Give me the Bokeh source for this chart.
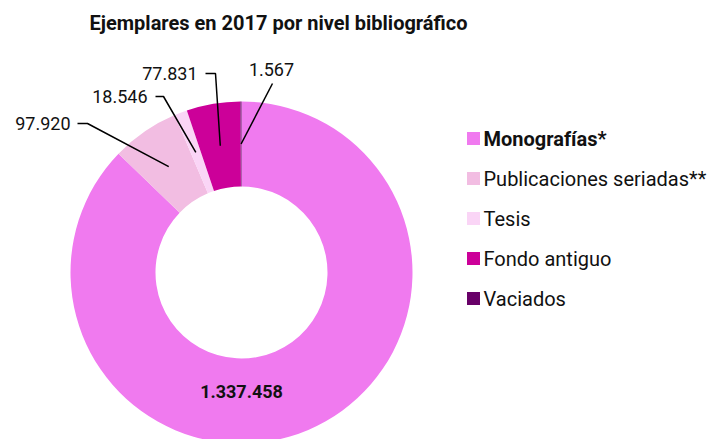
from math import pi, cos, sin
from bokeh.plotting import figure
from bokeh.models import Range1d, ColumnDataSource
from bokeh.core.properties import value
from bokeh.embed import file_html
from bokeh.resources import INLINE

# ---- data ----
categories = ["Monografías*", "Publicaciones seriadas**", "Tesis", "Fondo antiguo", "Vaciados"]
values = [1337458, 97920, 18546, 77831, 1567]
colors = ["#F07AEF", "#F2BDE2", "#FAD5F6", "#CC0099", "#680068"]
title_text = "Ejemplares en 2017 por nivel bibliográfico"

# ---- layout (pixels; pie centre = origin) ----
W, H = 712, 439
CX, CY = 241, 272          # pie centre measured from figure's left / top
R_OUT, R_IN = 171, 86
R_MID = (R_OUT + R_IN) / 2
FONT = "Roboto"

# label layout for each slice: (elbow point, stub length, text anchor, align)
label_layout = [
    None,
    ((-154, 149), 10, (-171, 149), "right"),
    ((-78, 176), 8, (-94, 176), "right"),
    ((-26, 199), 10, (-44, 199), "right"),
    ((31, 189), 0, (30, 203), "center"),
]
big_label_pos = (0, -119)
legend_x, legend_y0, legend_dy = 232, 134, -40


def fmt(v):
    return f"{v:,}".replace(",", ".")


p = figure(width=W, height=H, output_backend="svg", toolbar_location=None,
           x_range=Range1d(-CX, W - CX), y_range=Range1d(CY - H, CY),
           x_axis_type=None, y_axis_type=None, min_border=0)
p.outline_line_color = None
p.background_fill_color = "white"
p.border_fill_color = "white"

total = float(sum(values))
starts, ends, mids = [], [], []
cum = 0.0
for v in values:
    a0 = pi / 2 - 2 * pi * cum / total
    cum += v
    a1 = pi / 2 - 2 * pi * cum / total
    starts.append(a0)
    ends.append(a1)
    mids.append((a0 + a1) / 2)

src = ColumnDataSource(dict(start=starts, end=ends, color=colors))
p.annular_wedge(x=0, y=0, inner_radius=R_IN, outer_radius=R_OUT,
                start_angle="start", end_angle="end", direction="clock",
                fill_color="color", line_color=None, source=src)

# leader lines and labels
for i, lay in enumerate(label_layout):
    if lay is None:
        continue
    (ex, ey), stub, (tx, ty), align = lay
    ax, ay = R_MID * cos(mids[i]), R_MID * sin(mids[i])
    xs = [ax, ex]
    ys = [ay, ey]
    if stub:
        xs.append(ex - stub)
        ys.append(ey)
    p.line(xs, ys, line_color="black", line_width=1.5)
    p.text(x=[tx], y=[ty], text=[fmt(values[i])], text_align=align,
           text_baseline="middle", text_font=value(FONT),
           text_font_size="18px", text_color="#111111")

p.text(x=[big_label_pos[0]], y=[big_label_pos[1]], text=[fmt(values[0])],
       text_align="center", text_baseline="middle", text_font=value(FONT),
       text_font_size="18px", text_font_style="bold", text_color="#111111")

# title
p.text(x=[37], y=[250], text=[title_text], text_align="center",
       text_baseline="middle", text_font=value(FONT), text_font_size="20px",
       text_font_style="bold", text_color="#111111")

# legend
for i, (cat, col) in enumerate(zip(categories, colors)):
    y = legend_y0 + i * legend_dy
    p.rect(x=[legend_x], y=[y], width=13, height=13, fill_color=col, line_color=None)
    p.text(x=[legend_x + 10], y=[y], text=[cat], text_align="left",
           text_baseline="middle", text_font=value(FONT), text_font_size="20px",
           text_font_style="bold" if i == 0 else "normal", text_color="#111111")

open("out.html", "w").write(file_html(p, INLINE))
